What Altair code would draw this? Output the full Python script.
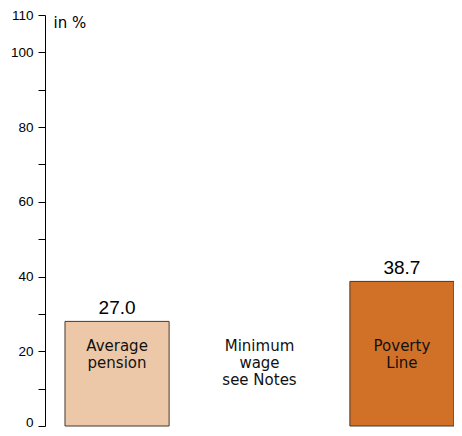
import altair as alt
import pandas as pd

categories = ["Average pension", "Minimum wage", "Poverty Line"]
bar_heights = [28.0, None, 38.7]
value_labels = ["27.0", "", "38.7"]
inner_labels = [["Average", "pension"], ["Minimum", "wage", "see Notes"], ["Poverty", "Line"]]
colors = ["#EDC8A8", "#FFFFFF", "#D07127"]
y_ticks = [0, 10, 20, 30, 40, 50, 60, 70, 80, 90, 100, 110]
y_labelled = [0, 20, 40, 60, 80, 100, 110]
inner_label_y = 23.3

df = pd.DataFrame({
    "cat": categories,
    "val": bar_heights,
    "vlabel": value_labels,
    "ilabel": inner_labels,
    "color": colors,
})
df["iy"] = inner_label_y

sans = "Liberation Sans, Arial, sans-serif"
wide = "DejaVu Sans, Verdana, sans-serif"

xscale = alt.Scale(domain=categories, paddingInner=0.269, paddingOuter=0.0702, align=1)
yscale = alt.Scale(domain=[0, 110.01], nice=False)

label_test = " || ".join(f"datum.value == {v}" for v in y_labelled)

yaxis = alt.Axis(
    values=y_ticks,
    labelExpr=f"({label_test}) ? datum.label : ''",
    labelOverlap=False,
    labelOffset={"expr": "datum.value == 0 ? -4 : 0"},
    title="in %", titleAngle=0, titleX=8, titleY=7, titleAlign="left",
    titleBaseline="middle", titleFont=wide, titleFontSize=15,
    titleFontWeight="normal", titleColor="#000",
    labelFont=sans, labelFontSize=13.5, labelColor="#000",
    tickSize=7, tickColor="#000", domainColor="#000", tickWidth=1,
    labelPadding=5, grid=False,
)

base = alt.Chart(df).encode(
    x=alt.X("cat:N", scale=xscale, axis=None, sort=categories),
)

bars = base.transform_filter("isValid(datum.val)").mark_bar(
    stroke="#45382e", strokeWidth=1
).encode(
    y=alt.Y("val:Q", scale=yscale, axis=yaxis),
    color=alt.Color("color:N", scale=None),
)

vlabels = base.transform_filter("isValid(datum.val)").mark_text(
    baseline="alphabetic", dy=-7, font=sans, fontSize=19, color="#000"
).encode(
    y=alt.Y("val:Q", scale=yscale, axis=yaxis),
    text="vlabel:N",
)

ilabels = base.mark_text(
    baseline="top", font=wide, fontSize=15, color="#111", lineHeight=17
).encode(
    y=alt.Y("iy:Q", scale=yscale, axis=yaxis),
    text="ilabel",
)

chart = alt.layer(bars, vlabels, ilabels).properties(
    width=409, height=411,
    autosize=alt.AutoSizeParams(type="none"),
    padding={"left": 37, "top": 7, "right": 0, "bottom": 2},
).configure_view(stroke=None)

chart.save("out.html", embed_options={"renderer": "svg", "actions": False})
